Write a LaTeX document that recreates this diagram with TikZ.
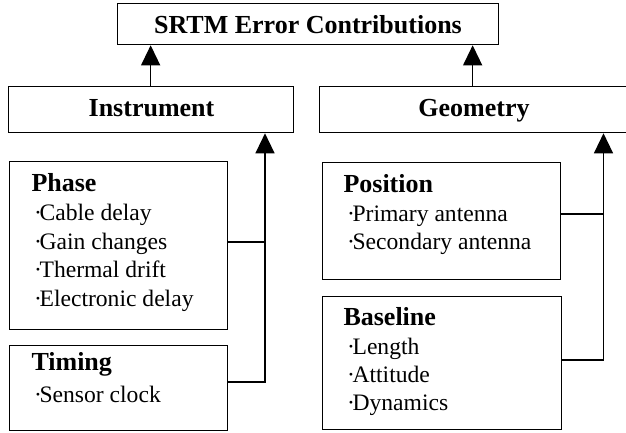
\documentclass[tikz,border=0pt]{standalone}
\usepackage{fontspec}
\setmainfont{Liberation Serif}
\usetikzlibrary{arrows.meta}

% bullet set tight against the following word
\newcommand{\bul}{·\kern-2.5pt}

\tikzset{
  box/.style={draw, line width=1.3pt, rectangle, inner sep=0pt, anchor=north west},
  head/.style={inner sep=0pt, anchor=base, font=\fontsize{26}{30}\selectfont\bfseries},
  cat/.style={inner sep=0pt, anchor=base west, font=\fontsize{26}{30}\selectfont\bfseries},
  item/.style={inner sep=0pt, anchor=base west, font=\fontsize{23.6}{28}\selectfont},
  link/.style={line width=1.3pt},
  arr/.style={line width=1.3pt, -{Triangle[length=20pt,width=19pt]}}
}

\begin{document}
\begin{tikzpicture}[x=1pt, y=-1pt]
\useasboundingbox (0,0) rectangle (626,432);
\clip (0,0) rectangle (626,432);

% top-level boxes
\node[box, minimum width=381pt, minimum height=41pt] (top) at (117,3) {};
\node[box, minimum width=285pt, minimum height=46pt] (inst) at (8,86) {};
\node[box, minimum width=310pt, minimum height=46pt] (geo) at (319,86) {};

\node[head] (toptxt) at (308,33.3) {SRTM Error Contributions};
\node[head] (insttxt) at (151.5,116) {Instrument};
\node[head] (geotxt) at (474,116.3) {Geometry};

% instrument sources
\node[box, minimum width=218pt, minimum height=168pt] (phase) at (9,161) {};
\node[box, minimum width=218pt, minimum height=85pt] (timing) at (9,345) {};

\node[cat] (phaset) at (31.3,191.7) {Phase};
\node[item] (phase1) at (34,220.5) {\bul Cable delay};
\node[item] (phase2) at (34,249) {\bul Gain changes};
\node[item] (phase3) at (34,277.7) {\bul Thermal drift};
\node[item] (phase4) at (34,306) {\bul Electronic delay};

\node[cat] (timingt) at (31.3,370.7) {Timing};
\node[item] (timing1) at (34,402.3) {\bul Sensor clock};

% geometry sources
\node[box, minimum width=238pt, minimum height=117pt] (pos) at (322,162) {};
\node[box, minimum width=239pt, minimum height=133pt] (base) at (322,296) {};

\node[cat] (post) at (343.3,192.7) {Position};
\node[item] (pos1) at (347,221.7) {\bul Primary antenna};
\node[item] (pos2) at (347,249.3) {\bul Secondary antenna};

\node[cat] (baset) at (343.3,325) {Baseline};
\node[item] (base1) at (347,354) {\bul Length};
\node[item] (base2) at (347,382.3) {\bul Attitude};
\node[item] (base3) at (347,410) {\bul Dynamics};

% arrows into the top box
\draw[arr] ([xshift=-0.5pt]inst.north) -- ([xshift=-0.5pt]inst.north |- top.south);
\draw[arr] ([xshift=-2pt]geo.north) -- ([xshift=-2pt]geo.north |- top.south);

% instrument bus
\coordinate (ij) at (265,242);
\coordinate (ib) at (265,382);
\draw[link] (ij -| phase.east) -- (ij);
\draw[arr] (ib -| timing.east) -- (ib) -- (ib |- inst.south);

% geometry bus
\coordinate (gj) at (603.5,214);
\coordinate (gb) at (603.5,360);
\draw[link] (gj -| pos.east) -- (gj);
\draw[arr] (gb -| base.east) -- (gb) -- (gb |- geo.south);
\end{tikzpicture}
\end{document}
